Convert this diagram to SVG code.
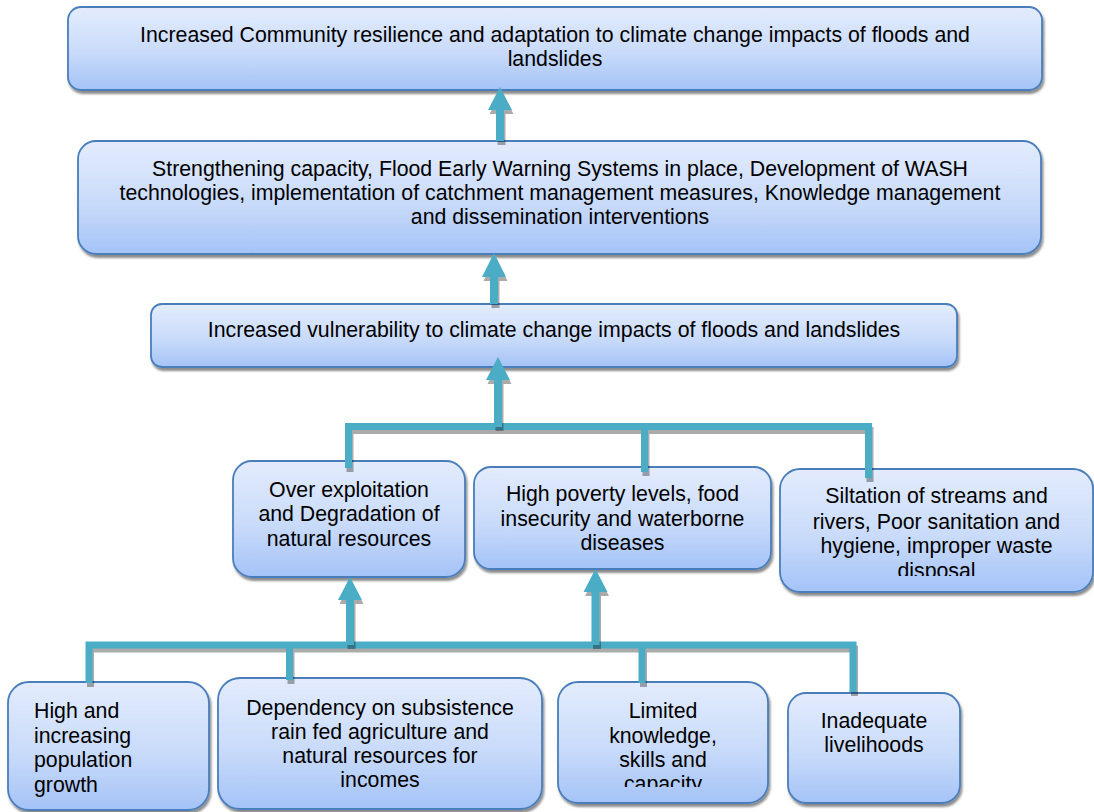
<svg xmlns="http://www.w3.org/2000/svg" width="1094" height="812" viewBox="0 0 1094 812">
<defs>
<linearGradient id="g" x1="0" y1="0" x2="0" y2="1">
<stop offset="0" stop-color="#E3ECFD"/>
<stop offset="0.55" stop-color="#C9DBFA"/>
<stop offset="1" stop-color="#A4C3F7"/>
</linearGradient>
<filter id="sh" x="-5%" y="-10%" width="110%" height="130%">
<feDropShadow dx="1.5" dy="3" stdDeviation="1.2" flood-color="#000" flood-opacity="0.45"/>
</filter>
<clipPath id="c6"><rect x="780" y="469" width="313" height="107"/></clipPath>
<clipPath id="c9"><rect x="558" y="682" width="210" height="105"/></clipPath>
</defs>
<style>
.b{fill:url(#g);stroke:#4A7EBB;stroke-width:1.8;filter:url(#sh)}
.t{font-family:"Liberation Sans",Arial,sans-serif;font-size:21.3px;fill:#000;text-anchor:middle}
.l{text-anchor:start}
.cs{fill:none;stroke:#000;stroke-opacity:0.33;stroke-width:7}
.cl{fill:none;stroke:#4BACC6;stroke-width:7}
.as{fill:#000;fill-opacity:0.33}
.a{fill:#4BACC6}
</style>
<g id="n1"><rect class="b" x="68" y="7" width="974" height="83" rx="13"/>
<text class="t" x="555" y="42">Increased Community resilience and adaptation to climate change impacts of floods and</text>
<text class="t" x="555" y="66">landslides</text></g>
<g id="n2"><rect class="b" x="78" y="141" width="963" height="113" rx="18"/>
<text class="t" x="560" y="176">Strengthening capacity, Flood Early Warning Systems in place, Development of WASH</text>
<text class="t" x="560" y="200">technologies, implementation of catchment management measures, Knowledge management</text>
<text class="t" x="560" y="224">and dissemination interventions</text></g>
<g id="n3"><rect class="b" x="151" y="304" width="806" height="63" rx="11"/>
<text class="t" x="554" y="337">Increased vulnerability to climate change impacts of floods and landslides</text></g>
<g id="n4"><rect class="b" x="233" y="461" width="232" height="116" rx="19"/>
<text class="t" x="349" y="497">Over exploitation</text>
<text class="t" x="349" y="521">and Degradation of</text>
<text class="t" x="349" y="546">natural resources</text></g>
<g id="n5"><rect class="b" x="474" y="467" width="297" height="102" rx="17"/>
<text class="t" x="622.5" y="501">High poverty levels, food</text>
<text class="t" x="622.5" y="526">insecurity and waterborne</text>
<text class="t" x="622.5" y="550">diseases</text></g>
<g id="n6"><rect class="b" x="780" y="469" width="313" height="123" rx="20"/>
<g clip-path="url(#c6)">
<text class="t" x="936.5" y="503">Siltation of streams and</text>
<text class="t" x="936.5" y="529">rivers, Poor sanitation and</text>
<text class="t" x="936.5" y="553">hygiene, improper waste</text>
<text class="t" x="936.5" y="578">disposal</text></g></g>
<g id="n7"><rect class="b" x="8" y="682" width="201" height="128" rx="21"/>
<text class="t l" x="34" y="718">High and</text>
<text class="t l" x="34" y="743">increasing</text>
<text class="t l" x="34" y="767">population</text>
<text class="t l" x="34" y="792">growth</text></g>
<g id="n8"><rect class="b" x="218" y="678" width="324" height="131" rx="22"/>
<text class="t" x="380" y="715">Dependency on subsistence</text>
<text class="t" x="380" y="739">rain fed agriculture and</text>
<text class="t" x="380" y="763">natural resources for</text>
<text class="t" x="380" y="787">incomes</text></g>
<g id="n9"><rect class="b" x="558" y="682" width="210" height="121" rx="20"/>
<g clip-path="url(#c9)">
<text class="t" x="663" y="718">Limited</text>
<text class="t" x="663" y="743">knowledge,</text>
<text class="t" x="663" y="767">skills and</text>
<text class="t" x="663" y="791">capacity</text></g></g>
<g id="n10"><rect class="b" x="788" y="693" width="172" height="110" rx="18"/>
<text class="t" x="874" y="728">Inadequate</text>
<text class="t" x="874" y="752">livelihoods</text></g>
<g id="connectors">
<path class="cs" transform="translate(1.5,4)" d="M348.5,468 V426.5 H868.5 V478 M644.5,426.5 V472"/>
<path class="cl" d="M348.5,468 V426.5 H868.5 V478 M644.5,426.5 V472"/>
<path class="cs" transform="translate(1.5,4)" d="M89,683 V645 H853 V692 M289.5,645 V680 M642,645 V683"/>
<path class="cl" d="M89,683 V645 H853 V692 M289.5,645 V680 M642,645 V683"/>
<path class="as" transform="translate(1.5,4)" d="M496,141 V110 H488 L500,87 L512,110 H504 V141 Z"/>
<path class="a" d="M496,141 V110 H488 L500,87 L512,110 H504 V141 Z"/>
<path class="as" transform="translate(1.5,4)" d="M490,304 V277 H482 L494,253 L506,277 H498 V304 Z"/>
<path class="a" d="M490,304 V277 H482 L494,253 L506,277 H498 V304 Z"/>
<path class="as" transform="translate(1.5,4)" d="M494,427 V380 H486 L498,357 L510,380 H502 V427 Z"/>
<path class="a" d="M494,427 V380 H486 L498,357 L510,380 H502 V427 Z"/>
<path class="as" transform="translate(1.5,4)" d="M346,645 V600 H338 L350,577 L362,600 H354 V645 Z"/>
<path class="a" d="M346,645 V600 H338 L350,577 L362,600 H354 V645 Z"/>
<path class="as" transform="translate(1.5,4)" d="M591.5,645 V592 H583.5 L595.5,569 L607.5,592 H599.5 V645 Z"/>
<path class="a" d="M591.5,645 V592 H583.5 L595.5,569 L607.5,592 H599.5 V645 Z"/>
</g>
</svg>
